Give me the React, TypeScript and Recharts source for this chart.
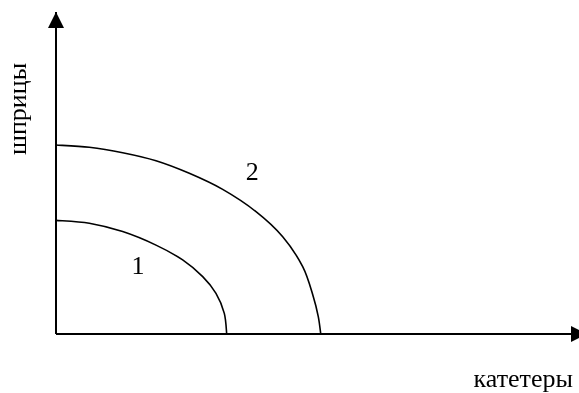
import React from 'react';
import { LineChart, Line, XAxis, YAxis, ReferenceDot, Label } from 'recharts';

// Production possibilities curves (x: катетеры, y: шприцы), domain 0..100
const curve1X = [0, 6.37, 12.75, 19.12, 24.22, 28.05, 30.59, 32.18, 32.64];
const curve1Y = [35.3, 34.4, 31.8, 27.6, 23.0, 17.8, 12.6, 6.4, 0];
const curve2X = [0, 6.37, 12.75, 19.12, 25.49, 31.87, 38.24, 43.35, 47.17, 49.2, 50.15, 50.62];
const curve2Y = [58.7, 58.0, 56.3, 53.8, 49.9, 44.9, 38.0, 30.2, 20.9, 11.6, 5.4, 0];

const curveNames = ['1', '2'];
const curveLabelX = [15.7, 37.5];
const curveLabelY = [21.3, 50.5];

const xTitle = 'катетеры';
const yTitle = 'шприцы';
const axisMax = 100;

const curve1 = curve1X.map((x, i) => ({ x, y: curve1Y[i] }));
const curve2 = curve2X.map((x, i) => ({ x, y: curve2Y[i] }));

const FONT = '"Liberation Serif", "Times New Roman", serif';
const FS = 26;

// Parametric Catmull-Rom style curve factory (handles near-vertical ends smoothly)
const smoothCurve = (context: any) => {
  let pts: number[][] = [];
  return {
    areaStart() {},
    areaEnd() {},
    lineStart() {
      pts = [];
    },
    point(x: number, y: number) {
      pts.push([+x, +y]);
    },
    lineEnd() {
      if (!pts.length) return;
      context.moveTo(pts[0][0], pts[0][1]);
      for (let i = 0; i < pts.length - 1; i++) {
        const p0 = pts[i - 1] || pts[i];
        const p1 = pts[i];
        const p2 = pts[i + 1];
        const p3 = pts[i + 2] || p2;
        context.bezierCurveTo(
          p1[0] + (p2[0] - p0[0]) / 6,
          p1[1] + (p2[1] - p0[1]) / 6,
          p2[0] - (p3[0] - p1[0]) / 6,
          p2[1] - (p3[1] - p1[1]) / 6,
          p2[0],
          p2[1]
        );
      }
    },
  };
};

const ArrowUp = (p: any) => (
  <path d={`M${p.cx},${p.cy} L${p.cx - 8},${p.cy + 16} L${p.cx + 8},${p.cy + 16} Z`} fill="#000" />
);
const ArrowRight = (p: any) => (
  <path d={`M${p.cx + 8},${p.cy} L${p.cx - 8},${p.cy - 8} L${p.cx - 8},${p.cy + 8} Z`} fill="#000" />
);

const makeTextShape = (t: string) => (p: any) => (
  <text x={p.cx} y={p.cy + 8.5} textAnchor="middle" fontFamily={FONT} fontSize={FS} fill="#000" stroke="none">
    {t}
  </text>
);

const YTitle = (props: any) => {
  const vb = props.viewBox || { x: 55, y: 12, width: 1 };
  const x = vb.x + (vb.width || 0) - 30.5;
  const y = vb.y + 97;
  return (
    <g transform={`translate(${x} ${y}) rotate(-90)`}>
      <text x={0} y={0} textAnchor="middle" fontFamily={FONT} fontSize={FS} fill="#000" stroke="none">
        {yTitle}
      </text>
    </g>
  );
};

const XTitle = (props: any) => {
  const vb = props.viewBox || { x: 56, y: 334, width: 523 };
  return (
    <text x={vb.x + vb.width - 6} y={vb.y + 53} textAnchor="end" fontFamily={FONT} fontSize={FS} fill="#000" stroke="none">
      {xTitle}
    </text>
  );
};

export default function App() {
  return (
    <div
      style={{
        position: 'absolute',
        left: 0,
        top: 0,
        width: 579,
        height: 393,
        background: '#fff',
        willChange: 'transform',
      }}
    >
      <LineChart width={579} height={393} margin={{ top: 12, right: 0, left: 55, bottom: 58 }}>
        <XAxis
          type="number"
          dataKey="x"
          domain={[0, axisMax]}
          allowDataOverflow
          height={1}
          tick={false}
          tickLine={false}
          axisLine={{ stroke: '#000', strokeWidth: 2 }}
        >
          <Label content={<XTitle />} />
        </XAxis>
        <YAxis
          type="number"
          dataKey="y"
          domain={[0, axisMax]}
          allowDataOverflow
          width={1}
          tick={false}
          tickLine={false}
          axisLine={{ stroke: '#000', strokeWidth: 2 }}
        >
          <Label content={<YTitle />} />
        </YAxis>
        <Line data={curve1} dataKey="y" type={smoothCurve as any} stroke="#000" strokeWidth={1.6} dot={false} isAnimationActive={false} />
        <Line data={curve2} dataKey="y" type={smoothCurve as any} stroke="#000" strokeWidth={1.6} dot={false} isAnimationActive={false} />
        <ReferenceDot x={0} y={axisMax} r={0} shape={ArrowUp} ifOverflow="visible" />
        <ReferenceDot x={axisMax} y={0} r={0} shape={ArrowRight} ifOverflow="visible" />
        {curveNames.map((n, i) => (
          <ReferenceDot key={n} x={curveLabelX[i]} y={curveLabelY[i]} r={0} shape={makeTextShape(n)} ifOverflow="visible" />
        ))}
      </LineChart>
    </div>
  );
}
